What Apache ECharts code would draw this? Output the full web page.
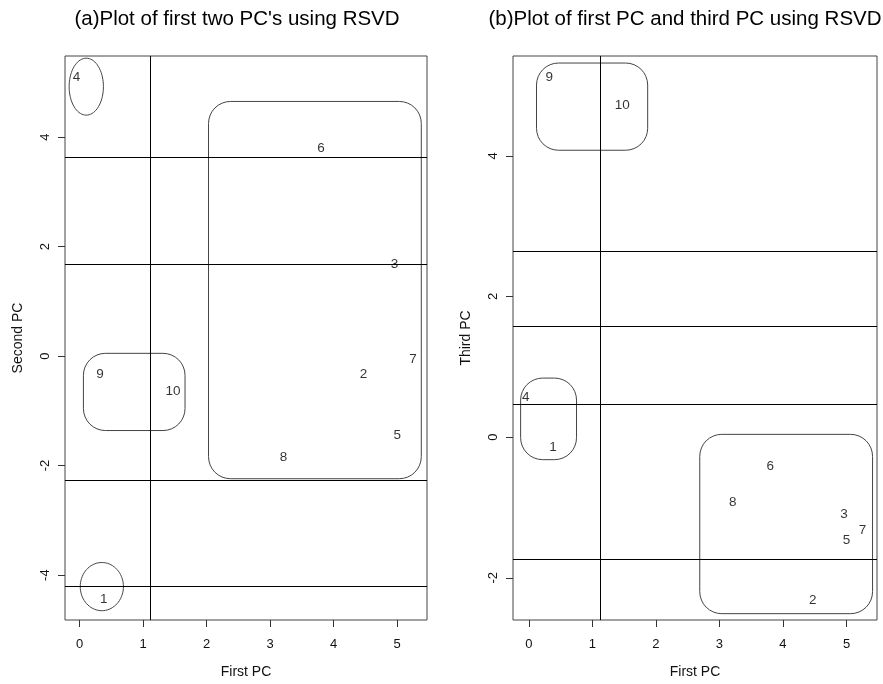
<!DOCTYPE html>
<html>
<head>
<meta charset="utf-8">
<script src="https://cdn.jsdelivr.net/npm/echarts@6/dist/echarts.min.js"></script>
<style>
html,body{margin:0;padding:0;background:#fff;}
#chart{width:883px;height:684px;}
</style>
</head>
<body>
<div id="chart"></div>
<script>
// ---- data ----
const pointLabels = ['1','2','3','4','5','6','7','8','9','10'];
const firstPC  = [0.38, 4.47, 4.96, -0.05, 5.00, 3.80, 5.25, 3.21, 0.32, 1.47];
const secondPC = [-4.45, -0.34, 1.67, 5.10, -1.45, 3.79, -0.05, -1.85, -0.34, -0.65];
const thirdPC  = [-0.14, -2.32, -1.09, 0.57, -1.47, -0.42, -1.33, -0.92, 5.12, 4.72];

const xTicks  = [0, 1, 2, 3, 4, 5];
const yTicksA = [-4, -2, 0, 2, 4];
const yTicksB = [-2, 0, 2, 4];

const hLinesA = [3.63, 1.67, -2.26, -4.21];
const vLinesA = [1.11];
const hLinesB = [2.64, 1.57, 0.47, -1.74];
const vLinesB = [1.117];

// cluster outlines: rounded boxes [x1, y1, x2, y2], ellipses [cx, cy, rx, ry]
const roundBoxesA = [[0.06, -1.36, 1.66, 0.05], [2.03, -2.24, 5.38, 4.65]];
const ellipsesA   = [[0.105, 4.92, 0.27, 0.52], [0.35, -4.21, 0.34, 0.44]];
const roundBoxesB = [[0.12, 4.08, 1.87, 5.32], [-0.13, -0.32, 0.75, 0.84], [2.69, -2.51, 5.41, 0.04]];
const ellipsesB   = [];

const titleA = "(a)Plot of first two PC's using RSVD";
const titleB = "(b)Plot of first PC and third PC using RSVD";

// ---- chart ----
const FONT = 'Liberation Sans, Arial, Helvetica, sans-serif';
const chart = echarts.init(document.getElementById('chart'), null, {renderer: 'canvas'});

function xAxisCfg(idx, min, max, name) {
  return {
    gridIndex: idx, type: 'value', min: min, max: max,
    axisLine: {show: false, onZero: false},
    splitLine: {show: false},
    axisTick: {show: true, customValues: xTicks, length: 7, lineStyle: {color: '#333', width: 1}},
    axisLabel: {customValues: xTicks, margin: 18, fontSize: 13, color: '#111', fontFamily: FONT},
    name: name, nameLocation: 'middle', nameGap: 45,
    nameTextStyle: {fontSize: 14, color: '#111', fontFamily: FONT}
  };
}
function yAxisCfg(idx, min, max, ticks, name) {
  return {
    gridIndex: idx, type: 'value', min: min, max: max,
    axisLine: {show: false, onZero: false},
    splitLine: {show: false},
    axisTick: {show: true, customValues: ticks, length: 7, lineStyle: {color: '#333', width: 1}},
    axisLabel: {customValues: ticks, rotate: 90, margin: 13, fontSize: 13, color: '#111', fontFamily: FONT},
    name: name, nameLocation: 'middle', nameGap: 40, nameRotate: 90,
    nameTextStyle: {fontSize: 14, color: '#111', fontFamily: FONT}
  };
}

function labelSeries(idx, xs, ys, hLines, vLines) {
  const marks = hLines.map(v => ({yAxis: v})).concat(vLines.map(v => ({xAxis: v})));
  return {
    type: 'scatter', xAxisIndex: idx, yAxisIndex: idx,
    symbol: 'circle', symbolSize: 0,
    data: xs.map((x, i) => ({value: [x, ys[i]], name: pointLabels[i]})),
    label: {show: true, position: 'inside', formatter: '{b}', fontSize: 13.5, color: '#000', fontFamily: FONT},
    emphasis: {disabled: true},
    silent: true,
    z: 5,
    markLine: {
      silent: true, symbol: ['none', 'none'], animation: false,
      label: {show: false},
      lineStyle: {color: '#000', width: 1, type: 'solid'},
      emphasis: {disabled: true},
      data: marks
    }
  };
}

function boxSeries(idx, boxes) {
  return {
    type: 'custom', xAxisIndex: idx, yAxisIndex: idx, silent: true, z: 3,
    data: boxes,
    renderItem: function (params, api) {
      const p1 = api.coord([api.value(0), api.value(3)]);
      const p2 = api.coord([api.value(2), api.value(1)]);
      return {
        type: 'rect',
        shape: {x: p1[0], y: p1[1], width: p2[0] - p1[0], height: p2[1] - p1[1], r: 22},
        style: {fill: 'none', stroke: '#444', lineWidth: 1}
      };
    }
  };
}

function ellipseSeries(idx, ells) {
  return {
    type: 'custom', xAxisIndex: idx, yAxisIndex: idx, silent: true, z: 3,
    data: ells,
    renderItem: function (params, api) {
      const cx = api.value(0), cy = api.value(1), rx = api.value(2), ry = api.value(3);
      const pts = [];
      for (let k = 0; k < 72; k++) {
        const t = k / 72 * Math.PI * 2;
        pts.push(api.coord([cx + rx * Math.cos(t), cy + ry * Math.sin(t)]));
      }
      return {
        type: 'polygon',
        shape: {points: pts},
        style: {fill: 'none', stroke: '#444', lineWidth: 1}
      };
    }
  };
}

const option = {
  backgroundColor: '#fff',
  animation: false,
  graphic: [
    {type: 'text', x: 237, y: 19, style: {text: titleA, font: '20.5px ' + FONT, fill: '#000', textAlign: 'center', textVerticalAlign: 'middle'}},
    {type: 'text', x: 685, y: 19, style: {text: titleB, font: '20.5px ' + FONT, fill: '#000', textAlign: 'center', textVerticalAlign: 'middle'}}
  ],
  grid: [
    {left: 65, top: 56, width: 362, height: 564, show: true, borderColor: '#444', borderWidth: 1, backgroundColor: 'transparent'},
    {left: 513, top: 56, width: 364, height: 564, show: true, borderColor: '#444', borderWidth: 1, backgroundColor: 'transparent'}
  ],
  xAxis: [
    xAxisCfg(0, -0.23, 5.47, 'First PC'),
    xAxisCfg(1, -0.25, 5.48, 'First PC')
  ],
  yAxis: [
    yAxisCfg(0, -4.82, 5.48, yTicksA, 'Second PC'),
    yAxisCfg(1, -2.60, 5.42, yTicksB, 'Third PC')
  ],
  series: [
    boxSeries(0, roundBoxesA),
    ellipseSeries(0, ellipsesA),
    labelSeries(0, firstPC, secondPC, hLinesA, vLinesA),
    boxSeries(1, roundBoxesB),
    ellipseSeries(1, ellipsesB),
    labelSeries(1, firstPC, thirdPC, hLinesB, vLinesB)
  ]
};
chart.setOption(option);
</script>
</body>
</html>
